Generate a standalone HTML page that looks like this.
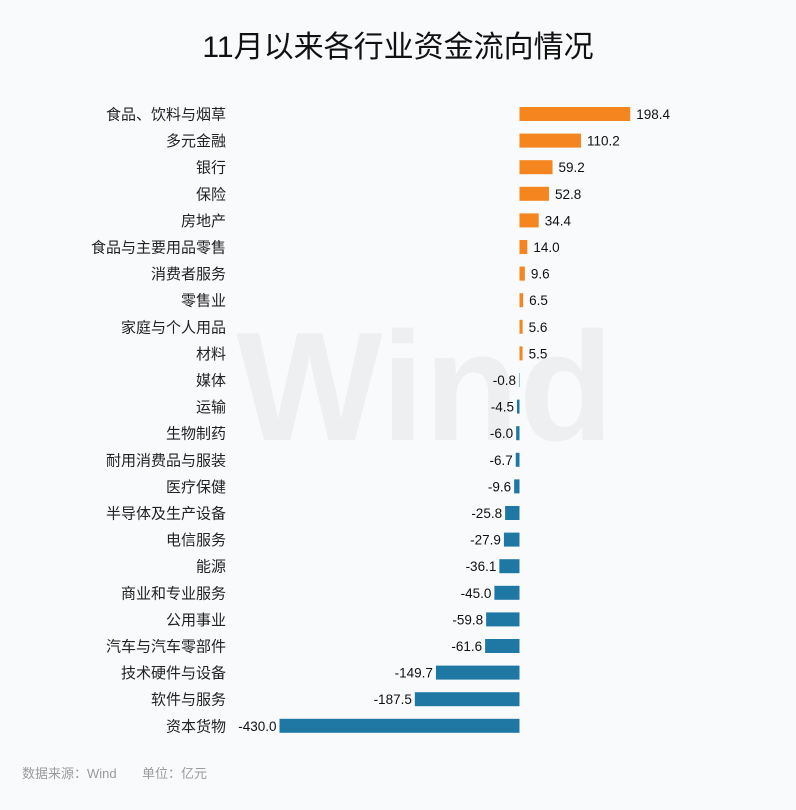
<!DOCTYPE html>
<html><head><meta charset="utf-8"><style>
body{margin:0;background:#f9fafc;}
svg text{font-family:"Liberation Sans","Noto Sans CJK SC",sans-serif;}
</style></head><body>
<svg width="796" height="805" xmlns="http://www.w3.org/2000/svg">
<rect width="796" height="805" fill="#f9fafc"/>
<text x="398" y="57" font-size="30" text-anchor="middle" fill="#111">11月以来各行业资金流向情况</text>
<text x="425" y="440" font-size="155" font-weight="bold" text-anchor="middle" fill="#eeeff1" font-family="Liberation Sans">Wind</text>
<g id="bars"></g>
<text x="22" y="778" font-size="13" fill="#9a9a9a">数据来源：Wind</text>
<text x="142" y="778" font-size="13" fill="#9a9a9a">单位：亿元</text>
</svg>
<script>
var d=[["食品、饮料与烟草",198.4],["多元金融",110.2],["银行",59.2],["保险",52.8],["房地产",34.4],["食品与主要用品零售",14.0],["消费者服务",9.6],["零售业",6.5],["家庭与个人用品",5.6],["材料",5.5],["媒体",-0.8],["运输",-4.5],["生物制药",-6.0],["耐用消费品与服装",-6.7],["医疗保健",-9.6],["半导体及生产设备",-25.8],["电信服务",-27.9],["能源",-36.1],["商业和专业服务",-45.0],["公用事业",-59.8],["汽车与汽车零部件",-61.6],["技术硬件与设备",-149.7],["软件与服务",-187.5],["资本货物",-430.0]];
var g=document.getElementById('bars'),s='',z=519.5,k=240/430;
d.forEach(function(r,i){var cy=114+i*26.6,w=Math.abs(r[1])*k;
s+='<text x="226" y="'+(cy+5.5)+'" font-size="15" text-anchor="end" fill="#222">'+r[0]+'</text>';
if(r[1]>=0){s+='<rect x="'+z+'" y="'+(cy-7)+'" width="'+w+'" height="14" fill="#f5861f"/>';
s+='<text x="'+(z+w+6)+'" y="'+(cy+5)+'" font-size="13.5" fill="#111">'+r[1].toFixed(1)+'</text>';}
else{s+='<rect x="'+(z-w)+'" y="'+(cy-7)+'" width="'+w+'" height="14" fill="#1f78a4"/>';
s+='<text x="'+(z-w-3)+'" y="'+(cy+5)+'" font-size="13.5" text-anchor="end" fill="#111">'+r[1].toFixed(1)+'</text>';}
});
g.innerHTML=s;
</script>
</body></html>
